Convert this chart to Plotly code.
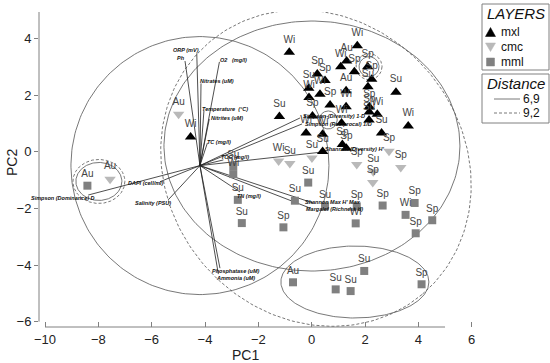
import numpy as np
import plotly.graph_objects as go

# ---------------- data ----------------
mxl_x = [-0.84, 1.71, 1.31, 1.09, 1.60, 2.10, 2.25, 2.11, 3.16, 0.21, 0.50, -0.11, -0.10, 0.31, 1.29, 0.69,
         1.29, 2.16, 2.16, 2.46, 2.15, 2.62, 3.62, -1.21, 0.03, 0.41, -0.21, 1.12, 0.41, 1.15, 1.30, -4.54]
mxl_y = [3.51, 3.74, 3.20, 3.00, 2.82, 3.00, 2.56, 2.29, 2.10, 2.74, 2.51, 2.24, 1.91, 2.03, 2.15, 1.65,
         1.59, 1.59, 1.40, 1.32, 1.12, 0.66, 0.91, 1.24, 1.26, 0.62, 0.66, 1.01, 0.01, 0.25, 0.12, 0.52]
mxl_lab = ["Wi", "Wi", "Au", "Wi", "Sp", "Sp", "Sp", "Su", "Su", "Sp", "Sp", "Su", "Wi", "Wi", "Au", "Sp",
           "Wi", "Sp", "Sp", "Wi", "Su", "Su", "Wi", "Su", "Sp", "Wi", "Wi", "Wi", "Su", "Sp", "Sp", "Wi"]

cmc_x = [-4.99, -7.56, -1.24, -0.82, 0.01, 1.69, 2.31, 2.29, 2.90, 3.34]
cmc_y = [1.32, -0.97, -0.33, -0.42, -0.22, -0.45, -0.71, -1.09, 0.02, -0.56]
cmc_lab = ["Au", "Au", "Wi", "Su", "Su", "Sp", "Su", "Sp", "Sp", "Sp"]

mml_x = [-8.41, -2.94, -2.94, -2.77, -2.62, -0.13, -0.63, -1.06, 0.50, 1.69, 1.65, 2.66, 3.86, 3.52,
         4.52, 3.90, 1.97, -0.70, 0.90, 1.46, 4.12]
mml_y = [-1.20, -0.51, -0.79, -1.70, -2.52, -1.09, -1.73, -2.67, -1.93, -1.93, -2.53, -1.90, -1.81, -2.23,
         -2.42, -2.88, -4.21, -4.61, -4.86, -4.92, -4.68]
mml_lab = ["Au", "Su", "Wi", "Su", "Su", "Su", "Su", "Sp", "Su", "Sp", "Wi", "Sp", "Sp", "Wi",
           "Sp", "Sp", "Su", "Au", "Su", "Su", "Sp"]

vec_origin = (-4.19, -0.49)
vec_names = ["ORP (mV)", "Ph", "O2   (mg/l)", "Nitrates (uM)", "Temperature  (°C)", "Nitrites (uM)",
             "TC (mg/l)", "TOC (mg/l)", "Simpson (Dominance) D", "DAPI (cell/ml)", "Salinity (PSU)",
             "TN (mg/l)", "Phosphatase (uM)", "Ammonia (uM)", "Shannon Max H' Max",
             "Margalef (Richness d)", "Shannon (Diversity) H'", "Simpson (Diversity) 1-D",
             "Simpson (Reciprocal) 1/D"]
vec_x = [-4.31, -4.75, -3.46, -4.15, -4.04, -3.84, -3.91, -3.31, -8.38, -5.69, -5.38,
         -2.69, -3.44, -3.50, 0.05, -0.06, 0.42, -0.44, -0.36]
vec_y = [3.47, 3.20, 3.17, 2.41, 1.45, 1.15, 0.31, -0.29, -1.53, -1.06, -1.70,
         -1.42, -4.11, -4.32, -1.81, -1.99, -0.01, 1.19, 0.98]

x_ticks = [-10, -8, -6, -4, -2, 0, 2, 4, 6]
y_ticks = [-6, -4, -2, 0, 2, 4]
layer_names = ["mxl", "cmc", "mml"]
distance_levels = ["6,9", "9,2"]

# ---------------- layout geometry ----------------
W, H = 550, 363
ML, MR, MT, MB = 39, 70, 12, 36
PW, PH = W - ML - MR, H - MT - MB
XR = [-10.225, 6.311]
YR = [-6.188, 4.931]
SX = PW / (XR[1] - XR[0])
SY = PH / (YR[1] - YR[0])


def px2paper(px, py):
    return (px - ML) / PW, (H - MB - py) / PH


def ellipse_xy(cx, cy, a_px, b_px, ang_deg=0, n=240):
    t = np.linspace(0, 2 * np.pi, n)
    th = np.radians(ang_deg)
    u, v = a_px * np.cos(t), b_px * np.sin(t)
    dx = u * np.cos(th) - v * np.sin(th)
    dy = u * np.sin(th) + v * np.cos(th)
    return cx + dx / SX, cy - dy / SY


FONT = "Liberation Sans, Arial, sans-serif"
fig = go.Figure()

# ellipses (cluster contours)
ellipses = [
    (vec_origin[0], vec_origin[1], 129, 129, 0, "solid"),
    (0.01, 0.20, 148, 125, 0, "solid"),
    (0.16, -0.58, 165, 148, 50, "3px,2px"),
    (1.62, -4.60, 74, 36, 0, "solid"),
    (-7.98, -1.05, 23, 19, 0, "solid"),
    (-7.98, -1.05, 26, 22, 0, "3px,2px"),
    (2.15, 3.00, 10, 10, 0, "solid"),
    (2.15, 3.00, 13, 13, 0, "3px,2px"),
    (0.62, 1.12, 9, 9, 0, "solid"),
]
for cx, cy, a, b, ang, dash in ellipses:
    ex, ey = ellipse_xy(cx, cy, a, b, ang)
    fig.add_trace(go.Scatter(x=ex, y=ey, mode="lines", hoverinfo="skip",
                             line=dict(color="#555555", width=0.8, dash=dash), showlegend=False))

# vectors
lx, ly = [], []
for x, y in zip(vec_x, vec_y):
    lx += [vec_origin[0], x, None]
    ly += [vec_origin[1], y, None]
fig.add_trace(go.Scatter(x=lx, y=ly, mode="lines", hoverinfo="skip",
                         line=dict(color="#222222", width=0.8), showlegend=False))

# vector label offsets (px) : (xshift, yshift)
vec_shift = [(-11, 3), (-4, 3.5), (14, 2), (16, 2.6), (21, 1.7), (18, 1.3), (12, 0.7), (12, 3),
             (-25, -3), (-14, -1.6), (-15, -2.7), (9, -3.7), (16, -2.7), (17, -4), (20, 1.3),
             (24, -1.3), (32, 2.7), (34, 1.5), (36, -0.5)]
for name, x, y, (sx, sy) in zip(vec_names, vec_x, vec_y, vec_shift):
    fig.add_annotation(x=x, y=y, text=name, showarrow=False, xshift=sx, yshift=sy,
                       xanchor="center", yanchor="middle",
                       font=dict(family=FONT, size=5.5, color="#111111", style="italic", weight="bold"))

# sample points
lab_font = dict(family=FONT, size=10, color="#444444")
fig.add_trace(go.Scatter(x=mxl_x, y=mxl_y, mode="markers+text", text=mxl_lab, textposition="top center",
                         textfont=lab_font, marker=dict(symbol="triangle-up", size=10, color="#000000"),
                         showlegend=False))
fig.add_trace(go.Scatter(x=cmc_x, y=cmc_y, mode="markers+text", text=cmc_lab, textposition="top center",
                         textfont=lab_font, marker=dict(symbol="triangle-down", size=10, color="#b9b9b9"),
                         showlegend=False))
fig.add_trace(go.Scatter(x=mml_x, y=mml_y, mode="markers+text", text=mml_lab, textposition="top center",
                         textfont=lab_font, marker=dict(symbol="square", size=8, color="#808080"),
                         showlegend=False))

# axis lines (detached style)
fig.add_shape(type="line", xref="x", yref="paper", x0=x_ticks[0], x1=5, y0=0, y1=0,
              line=dict(color="#808080", width=1))
fig.add_shape(type="line", xref="paper", yref="y", x0=0, x1=0, y0=y_ticks[0], y1=YR[1],
              line=dict(color="#808080", width=1))


def ptext(x, y, t, size=12, anchor="left", italic=False, angle=0, color="#111111"):
    a, b = px2paper(x, y)
    fig.add_annotation(xref="paper", yref="paper", x=a, y=b, text=t, showarrow=False,
                       xanchor=anchor, yanchor="middle", textangle=angle,
                       font=dict(family=FONT, size=size, color=color,
                                 style="italic" if italic else "normal"))


# axis titles
ptext(245, 355, "PC1", 14, "center", color="#222222")
ptext(12, 163, "PC2", 14, "center", angle=-90, color="#222222")

# legend boxes
def box(x0, y0, x1, y1):
    a, b = px2paper(x0, y1)
    c, d = px2paper(x1, y0)
    fig.add_shape(type="rect", xref="paper", yref="paper", x0=a, y0=b, x1=c, y1=d,
                  line=dict(color="#808080", width=1), fillcolor="white", layer="above")

box(482, 4, 549, 70)
box(482, 74, 549, 123)

ptext(515.5, 13.5, "LAYERS", 15, "center", True)
ptext(515.5, 84, "Distance", 15, "center", True)

def ppath(pts, color):
    s = ""
    for i, (x, y) in enumerate(pts):
        a, b = px2paper(x, y)
        s += ("M" if i == 0 else "L") + f"{a:.5f},{b:.5f} "
    fig.add_shape(type="path", xref="paper", yref="paper", path=s + "Z", fillcolor=color,
                  line=dict(color=color, width=0.5), layer="above")

ppath([(485.5, 36.5), (495.5, 36.5), (490.5, 27.5)], "#000000")
ppath([(485.5, 43), (495.5, 43), (490.5, 51.5)], "#b9b9b9")
ppath([(486.5, 58), (494.5, 58), (494.5, 66), (486.5, 66)], "#808080")
for name, yy in zip(layer_names, [32, 47, 62]):
    ptext(499, yy, name, 12)

for lev, yy, dash in zip(distance_levels, [99, 113], ["solid", "3px,2px"]):
    a, b = px2paper(494, yy)
    c, _ = px2paper(520, yy)
    fig.add_shape(type="line", xref="paper", yref="paper", x0=a, x1=c, y0=b, y1=b,
                  line=dict(color="#555555", width=0.8, dash=dash), layer="above")
    ptext(542, yy, lev, 12, "right")

fig.update_layout(
    template="none",
    width=W, height=H, margin=dict(l=ML, r=MR, t=MT, b=MB, autoexpand=False),
    plot_bgcolor="white", paper_bgcolor="white",
    xaxis=dict(range=XR, showgrid=False, zeroline=False, showline=False, tickmode="array",
               tickvals=x_ticks, ticks="inside", ticklen=5, tickcolor="#808080", automargin=False,
               tickfont=dict(family=FONT, size=13, color="#222222"), ticklabelstandoff=3),
    yaxis=dict(range=YR, showgrid=False, zeroline=False, showline=False, tickmode="array",
               tickvals=y_ticks, ticks="outside", ticklen=4, tickcolor="#808080", automargin=False,
               tickfont=dict(family=FONT, size=13, color="#222222")),
    showlegend=False,
)
fig.write_html("out.html", config={"displayModeBar": False},
               post_script="document.body.style.margin='0';document.body.style.padding='0';")
